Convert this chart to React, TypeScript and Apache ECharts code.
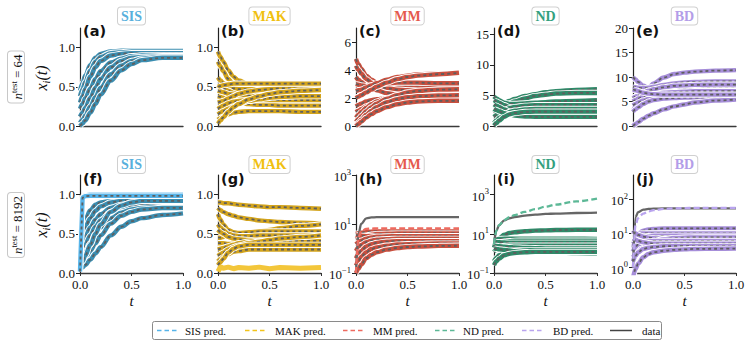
import React, { useEffect, useRef } from "react";
import * as echarts from "echarts";

const SERIF = "Liberation Serif, DejaVu Serif, serif";
const SANS = "DejaVu Sans, sans-serif";

// time grid (t)
const T = [0, 0.025, 0.05, 0.1, 0.15, 0.2, 0.3, 0.4, 0.5, 0.6, 0.8, 1.0];

// (a) SIS, n_test = 64
const sis64 = [
  [0.45, 0.55, 0.64, 0.78, 0.87, 0.92, 0.95, 0.96, 0.96, 0.96, 0.96, 0.96],
  [0.38, 0.47, 0.56, 0.71, 0.82, 0.88, 0.93, 0.94, 0.95, 0.95, 0.95, 0.95],
  [0.3, 0.38, 0.47, 0.63, 0.75, 0.83, 0.9, 0.92, 0.93, 0.93, 0.93, 0.93],
  [0.22, 0.28, 0.35, 0.48, 0.6, 0.7, 0.81, 0.86, 0.89, 0.9, 0.9, 0.9],
  [0.12, 0.17, 0.23, 0.36, 0.49, 0.6, 0.75, 0.83, 0.87, 0.88, 0.89, 0.89],
  [0.04, 0.08, 0.13, 0.25, 0.37, 0.49, 0.66, 0.77, 0.83, 0.86, 0.88, 0.88],
  [0.0, 0.03, 0.07, 0.17, 0.28, 0.4, 0.58, 0.71, 0.79, 0.84, 0.87, 0.87],
];

// (b) MAK, n_test = 64
const mak64 = [
  [0.95, 0.88, 0.82, 0.71, 0.63, 0.58, 0.53, 0.52, 0.52, 0.52, 0.52, 0.52],
  [0.82, 0.76, 0.7, 0.6, 0.53, 0.48, 0.43, 0.42, 0.41, 0.41, 0.41, 0.41],
  [0.62, 0.58, 0.55, 0.5, 0.48, 0.47, 0.47, 0.47, 0.47, 0.47, 0.47, 0.47],
  [0.52, 0.5, 0.48, 0.45, 0.42, 0.4, 0.38, 0.37, 0.36, 0.36, 0.35, 0.35],
  [0.45, 0.44, 0.43, 0.41, 0.4, 0.39, 0.39, 0.39, 0.39, 0.39, 0.39, 0.39],
  [0.38, 0.37, 0.36, 0.33, 0.31, 0.3, 0.28, 0.27, 0.27, 0.26, 0.26, 0.26],
  [0.3, 0.31, 0.32, 0.35, 0.38, 0.41, 0.44, 0.46, 0.47, 0.48, 0.48, 0.48],
  [0.22, 0.24, 0.26, 0.29, 0.31, 0.32, 0.33, 0.33, 0.33, 0.33, 0.33, 0.33],
  [0.15, 0.17, 0.19, 0.22, 0.25, 0.28, 0.32, 0.34, 0.36, 0.37, 0.38, 0.38],
  [0.08, 0.1, 0.12, 0.15, 0.17, 0.18, 0.19, 0.19, 0.19, 0.19, 0.18, 0.18],
  [0.03, 0.07, 0.11, 0.18, 0.24, 0.28, 0.34, 0.38, 0.41, 0.43, 0.45, 0.46],
  [0.5, 0.51, 0.52, 0.53, 0.54, 0.54, 0.54, 0.54, 0.54, 0.54, 0.54, 0.54],
];

// (c) MM, n_test = 64
const mm64 = [
  [4.8, 4.4, 4.1, 3.6, 3.3, 3.1, 2.95, 2.9, 2.9, 2.9, 2.9, 2.9],
  [4.3, 4.0, 3.75, 3.35, 3.1, 2.9, 2.7, 2.6, 2.55, 2.5, 2.5, 2.5],
  [3.5, 3.3, 3.15, 2.9, 2.7, 2.55, 2.35, 2.25, 2.2, 2.2, 2.2, 2.2],
  [3.0, 2.95, 2.9, 2.85, 2.9, 2.95, 3.05, 3.1, 3.1, 3.1, 3.05, 3.05],
  [2.5, 2.55, 2.6, 2.75, 2.9, 3.05, 3.3, 3.5, 3.6, 3.7, 3.75, 3.75],
  [2.0, 2.1, 2.2, 2.4, 2.6, 2.8, 3.1, 3.35, 3.5, 3.6, 3.7, 3.8],
  [1.4, 1.5, 1.6, 1.75, 1.85, 1.92, 2.0, 2.02, 2.03, 2.03, 2.03, 2.03],
  [1.0, 1.1, 1.2, 1.4, 1.55, 1.65, 1.8, 1.88, 1.9, 1.92, 1.92, 1.92],
  [0.6, 0.8, 1.0, 1.3, 1.55, 1.75, 2.0, 2.15, 2.22, 2.26, 2.3, 2.3],
  [0.3, 0.5, 0.7, 1.05, 1.35, 1.6, 1.95, 2.2, 2.4, 2.5, 2.6, 2.62],
  [0.05, 0.25, 0.45, 0.8, 1.1, 1.35, 1.7, 1.92, 2.05, 2.12, 2.18, 2.2],
  [0.0, 0.15, 0.3, 0.6, 0.85, 1.05, 1.35, 1.55, 1.68, 1.75, 1.8, 1.8],
];

// (d) ND, n_test = 64
const nd64 = [
  [3.0, 3.2, 3.4, 3.8, 4.1, 4.4, 4.9, 5.2, 5.5, 5.7, 5.9, 6.0],
  [2.2, 2.5, 2.8, 3.3, 3.7, 4.0, 4.5, 4.9, 5.1, 5.3, 5.4, 5.4],
  [4.8, 4.5, 4.2, 3.8, 3.6, 3.6, 3.7, 3.8, 3.9, 4.0, 4.1, 4.2],
  [4.2, 4.0, 3.8, 3.4, 3.1, 2.9, 2.7, 2.6, 2.6, 2.6, 2.6, 2.6],
  [1.5, 1.8, 2.1, 2.6, 2.9, 3.1, 3.3, 3.4, 3.4, 3.4, 3.4, 3.4],
  [3.5, 3.3, 3.1, 2.7, 2.4, 2.2, 2.0, 1.9, 1.9, 1.9, 1.9, 1.9],
  [0.5, 0.9, 1.3, 1.9, 2.3, 2.5, 2.7, 2.8, 2.8, 2.8, 2.8, 2.8],
  [2.8, 2.6, 2.4, 2.1, 1.9, 1.7, 1.55, 1.5, 1.5, 1.5, 1.5, 1.5],
  [0.1, 0.5, 0.9, 1.5, 1.9, 2.1, 2.3, 2.35, 2.35, 2.35, 2.35, 2.35],
];

// (e) BD, n_test = 64
const bd64 = [
  [3.0, 4.0, 5.0, 6.6, 7.8, 8.7, 9.9, 10.6, 10.9, 11.1, 11.3, 11.4],
  [10.0, 9.5, 9.0, 8.2, 7.8, 7.6, 7.6, 7.7, 7.8, 7.8, 7.8, 7.8],
  [8.0, 7.9, 7.8, 7.7, 7.8, 8.0, 8.4, 8.7, 8.9, 9.0, 9.1, 9.1],
  [5.7, 6.0, 6.3, 6.8, 7.2, 7.5, 7.9, 8.2, 8.3, 8.4, 8.45, 8.45],
  [5.0, 5.3, 5.6, 6.0, 6.3, 6.5, 6.8, 6.9, 7.0, 7.1, 7.1, 7.1],
  [4.2, 4.5, 4.8, 5.2, 5.5, 5.7, 5.9, 6.0, 6.0, 6.0, 6.0, 6.0],
  [2.9, 3.4, 3.8, 4.5, 5.0, 5.3, 5.6, 5.7, 5.8, 5.8, 5.8, 5.8],
  [0.0, 0.4, 0.8, 1.5, 2.1, 2.6, 3.4, 4.0, 4.4, 4.8, 5.2, 5.4],
  [7.5, 7.3, 7.1, 6.8, 6.6, 6.5, 6.4, 6.4, 6.4, 6.4, 6.4, 6.4],
];

// (f) SIS, n_test = 8192
const sis8192 = [
  [0.5, 0.6, 0.68, 0.8, 0.87, 0.9, 0.92, 0.93, 0.93, 0.93, 0.93, 0.93],
  [0.42, 0.5, 0.58, 0.7, 0.79, 0.85, 0.9, 0.92, 0.93, 0.93, 0.93, 0.93],
  [0.33, 0.39, 0.46, 0.58, 0.68, 0.75, 0.83, 0.87, 0.89, 0.9, 0.9, 0.9],
  [0.25, 0.3, 0.36, 0.48, 0.59, 0.67, 0.78, 0.84, 0.86, 0.87, 0.87, 0.87],
  [0.15, 0.2, 0.26, 0.38, 0.49, 0.58, 0.7, 0.77, 0.81, 0.83, 0.84, 0.84],
  [0.08, 0.12, 0.17, 0.28, 0.38, 0.48, 0.63, 0.73, 0.78, 0.81, 0.83, 0.83],
  [0.05, 0.07, 0.1, 0.17, 0.25, 0.33, 0.48, 0.59, 0.66, 0.7, 0.74, 0.76],
  [0.1, 0.15, 0.22, 0.36, 0.5, 0.62, 0.78, 0.86, 0.9, 0.92, 0.92, 0.92],
];
const sis8192Saturated = [
  [0.02, 0.97, 0.99, 1.0, 1.0, 1.0, 1.0, 1.0, 1.0, 1.0, 1.0, 1.0],
  [0.02, 0.96, 0.98, 0.985, 0.985, 0.985, 0.985, 0.985, 0.985, 0.985, 0.985, 0.985],
];

// (g) MAK, n_test = 8192
const mak8192 = [
  [0.9, 0.9, 0.89, 0.89, 0.88, 0.87, 0.86, 0.85, 0.84, 0.84, 0.83, 0.82],
  [0.83, 0.8, 0.78, 0.75, 0.73, 0.71, 0.69, 0.67, 0.66, 0.65, 0.64, 0.63],
  [0.45, 0.45, 0.46, 0.47, 0.48, 0.49, 0.51, 0.53, 0.55, 0.57, 0.6, 0.62],
  [0.75, 0.68, 0.62, 0.55, 0.52, 0.51, 0.52, 0.53, 0.53, 0.53, 0.53, 0.53],
  [0.62, 0.58, 0.55, 0.5, 0.48, 0.47, 0.47, 0.48, 0.48, 0.48, 0.48, 0.48],
  [0.55, 0.52, 0.5, 0.46, 0.44, 0.43, 0.42, 0.41, 0.41, 0.41, 0.41, 0.41],
  [0.38, 0.38, 0.38, 0.37, 0.37, 0.36, 0.36, 0.36, 0.36, 0.36, 0.36, 0.36],
  [0.3, 0.31, 0.32, 0.34, 0.36, 0.38, 0.4, 0.41, 0.41, 0.41, 0.41, 0.41],
  [0.22, 0.24, 0.26, 0.3, 0.33, 0.35, 0.38, 0.4, 0.42, 0.44, 0.46, 0.48],
  [0.15, 0.18, 0.2, 0.24, 0.27, 0.28, 0.3, 0.3, 0.3, 0.3, 0.3, 0.3],
  [0.1, 0.14, 0.18, 0.26, 0.31, 0.34, 0.36, 0.36, 0.36, 0.36, 0.36, 0.36],
];
const mak8192NoisyPred = [
  [0.02, 0.08, 0.06, 0.075, 0.055, 0.07, 0.06, 0.075, 0.055, 0.07, 0.06, 0.07],
];

// (h) MM, n_test = 8192 (log scale)
const mm8192 = [
  [4.0, 4.2, 4.4, 4.7, 4.9, 5.0, 5.0, 5.0, 5.0, 5.0, 5.0, 5.0],
  [2.5, 2.8, 3.0, 3.4, 3.7, 3.9, 4.0, 4.1, 4.1, 4.1, 4.1, 4.1],
  [3.5, 3.4, 3.3, 3.2, 3.1, 3.0, 2.9, 2.8, 2.8, 2.8, 2.8, 2.8],
  [1.5, 1.8, 2.1, 2.5, 2.8, 3.0, 3.1, 3.2, 3.2, 3.2, 3.2, 3.2],
  [0.8, 1.1, 1.4, 1.8, 2.1, 2.3, 2.4, 2.5, 2.5, 2.5, 2.5, 2.5],
  [0.4, 0.6, 0.8, 1.2, 1.5, 1.7, 1.9, 2.0, 2.0, 2.0, 2.0, 2.0],
  [0.2, 0.3, 0.45, 0.7, 0.95, 1.1, 1.3, 1.45, 1.5, 1.55, 1.6, 1.6],
  [0.1, 0.15, 0.22, 0.4, 0.55, 0.7, 0.9, 1.05, 1.15, 1.2, 1.28, 1.3],
];
const mm8192Data = [[0.1, 4, 10, 17, 18.5, 19, 19, 19, 19, 19, 19, 19]];
const mm8192Pred = [[0.1, 3, 5, 6.3, 6.5, 6.6, 6.6, 6.6, 6.6, 6.6, 6.6, 6.6]];

// (i) ND, n_test = 8192 (log scale)
const nd8192 = [
  [2, 4, 6, 9, 11, 12, 13.5, 14.5, 15, 15.5, 16, 16],
  [5, 5.2, 5.4, 5.6, 5.6, 5.6, 5.6, 5.6, 5.6, 5.6, 5.6, 5.5],
  [3, 3.3, 3.6, 4.0, 4.2, 4.4, 4.5, 4.5, 4.5, 4.5, 4.5, 4.5],
  [4, 3.8, 3.7, 3.6, 3.5, 3.5, 3.5, 3.5, 3.5, 3.5, 3.5, 3.5],
  [1.2, 1.6, 2.0, 2.4, 2.5, 2.5, 2.5, 2.5, 2.5, 2.5, 2.5, 2.5],
  [2.5, 2.4, 2.3, 2.2, 2.1, 2.0, 1.9, 1.85, 1.8, 1.8, 1.8, 1.8],
  [0.4, 0.6, 0.8, 1.1, 1.3, 1.4, 1.45, 1.45, 1.45, 1.45, 1.45, 1.45],
  [1.8, 1.7, 1.6, 1.5, 1.4, 1.3, 1.2, 1.15, 1.1, 1.1, 1.05, 1.0],
  [0.25, 0.4, 0.55, 0.8, 0.95, 1.05, 1.15, 1.2, 1.2, 1.2, 1.2, 1.2],
];
const nd8192Data = [[3, 15, 28, 48, 62, 72, 85, 95, 103, 108, 115, 120]];
const nd8192Pred = [[3, 15, 28, 50, 70, 90, 130, 180, 240, 310, 450, 630]];

// (j) BD, n_test = 8192 (log scale)
const bd8192 = [
  [3, 8, 10, 12, 13, 13.5, 14, 14, 14, 14, 14, 14],
  [9, 9.5, 9.8, 10, 10, 10, 10, 10, 10, 10, 10, 10],
  [5, 6, 7, 8, 8.3, 8.5, 8.5, 8.5, 8.5, 8.5, 8.5, 8.5],
  [12, 10, 9, 8, 7.5, 7.2, 7, 7, 7, 7, 7, 7],
  [2, 2.5, 3, 4, 5, 5.8, 6.8, 7.3, 7.5, 7.6, 7.6, 7.6],
  [3, 4, 4.8, 5.5, 5.8, 6, 6, 6, 6, 6, 6, 6],
  [7, 6.5, 6, 5.5, 5.2, 5, 5, 5, 5, 5, 5, 5],
  [1.5, 2.2, 2.8, 3.5, 3.8, 4, 4.2, 4.2, 4.2, 4.2, 4.2, 4.2],
  [0.5, 0.9, 1.3, 2.0, 2.5, 2.8, 3.1, 3.3, 3.4, 3.5, 3.55, 3.6],
];
const bd8192Data = [[1, 30, 42, 50, 52, 53, 54, 54, 54, 54, 54, 54]];
const bd8192Pred = [[1, 18, 28, 38, 44, 48, 52, 54, 55, 56, 56, 56]];

// tick labels
const unitTicks = [0, 0.5, 1.0];
const mm64Ticks = [0, 2, 4, 6];
const nd64Ticks = [0, 5, 10, 15];
const bd64Ticks = [0, 5, 10, 15, 20];
const logTicksWide = [0.1, 10, 1000];
const logTicksBD = [1, 10, 100];

const models = ["SIS", "MAK", "MM", "ND", "BD"];
const rowLabels = ["64", "8192"];
const legendLabels = ["SIS pred.", "MAK pred.", "MM pred.", "ND pred.", "BD pred.", "data"];

const COL: Record<string, { band: string; pred: string; title: string }> = {
  SIS: { band: "#3b8db0", pred: "#56b4e9", title: "#58b0dc" },
  MAK: { band: "#d3a41c", pred: "#f2c31a", title: "#f0c010" },
  MM: { band: "#c9503f", pred: "#ee6a5f", title: "#e55a4e" },
  ND: { band: "#2f8a69", pred: "#5cb896", title: "#33a07e" },
  BD: { band: "#a68ed9", pred: "#b9a4ee", title: "#b39de8" },
};
const DATA_GRAY = "#5e5e5e";

const LEFTS = [80, 218, 356, 494, 633];
const TOPS = [28, 175];
const PW = 103;
const PH = 98;

const fmt1 = (v: number) => v.toFixed(1);
const fmtInt = (v: number) => String(v);

type Panel = {
  row: number;
  col: number;
  letter: string;
  traj: number[][];
  flat?: number[][];
  noisy?: number[][];
  dataOnly?: number[][];
  predOnly?: number[][];
  log?: boolean;
  min: number;
  max: number;
  ticks: number[];
  fmt?: (v: number) => string;
};

const panels: Panel[] = [
  { row: 0, col: 0, letter: "(a)", traj: sis64, min: 0, max: 1.25, ticks: unitTicks, fmt: fmt1 },
  { row: 0, col: 1, letter: "(b)", traj: mak64, min: 0, max: 1.25, ticks: unitTicks, fmt: fmt1 },
  { row: 0, col: 2, letter: "(c)", traj: mm64, min: 0, max: 7, ticks: mm64Ticks, fmt: fmtInt },
  { row: 0, col: 3, letter: "(d)", traj: nd64, min: 0, max: 16, ticks: nd64Ticks, fmt: fmtInt },
  { row: 0, col: 4, letter: "(e)", traj: bd64, min: 0, max: 20, ticks: bd64Ticks, fmt: fmtInt },
  { row: 1, col: 0, letter: "(f)", traj: sis8192, flat: sis8192Saturated, min: 0, max: 1.25, ticks: unitTicks, fmt: fmt1 },
  { row: 1, col: 1, letter: "(g)", traj: mak8192, noisy: mak8192NoisyPred, min: 0, max: 1.25, ticks: unitTicks, fmt: fmt1 },
  { row: 1, col: 2, letter: "(h)", traj: mm8192, dataOnly: mm8192Data, predOnly: mm8192Pred, log: true, min: 0.1, max: 1000, ticks: logTicksWide },
  { row: 1, col: 3, letter: "(i)", traj: nd8192, dataOnly: nd8192Data, predOnly: nd8192Pred, log: true, min: 0.1, max: 10000, ticks: logTicksWide },
  { row: 1, col: 4, letter: "(j)", traj: bd8192, dataOnly: bd8192Data, predOnly: bd8192Pred, log: true, min: 0.69, max: 515, ticks: logTicksBD },
];

function buildOption() {
  const grid: any[] = [];
  const xAxis: any[] = [];
  const yAxis: any[] = [];
  const series: any[] = [];
  const graphic: any[] = [];

  panels.forEach((p, k) => {
    const m = models[p.col];
    const c = COL[m];
    const left = LEFTS[p.col];
    const top = TOPS[p.row];
    grid.push({ left, top, width: PW, height: PH, containLabel: false });
    const bottomRow = p.row === 1;
    xAxis.push({
      type: "value",
      gridIndex: k,
      min: 0,
      max: 1,
      interval: 0.5,
      splitLine: { show: false },
      axisLine: { show: true, onZero: false, lineStyle: { color: "#3a3a3a", width: 1.4 } },
      axisTick: { show: bottomRow, length: 3, lineStyle: { color: "#333" } },
      axisLabel: {
        show: bottomRow,
        margin: 5,
        color: "#111",
        fontFamily: SERIF,
        fontSize: 13,
        formatter: (v: number) => v.toFixed(1),
      },
    });
    const yBase: any = {
      gridIndex: k,
      min: p.min,
      max: p.max,
      splitLine: { show: false },
      axisLine: { show: true, onZero: false, lineStyle: { color: "#222", width: 1.2 } },
      axisTick: { show: true, length: 4, customValues: p.ticks, lineStyle: { color: "#222" } },
    };
    if (p.log) {
      yAxis.push({
        ...yBase,
        type: "log",
        logBase: 10,
        axisLabel: {
          customValues: p.ticks,
          margin: 5,
          color: "#111",
          formatter: (v: number) => {
            const e = Math.round(Math.log10(v));
            return `{b|10}{s|${e < 0 ? "\u2212" + -e : e}}`;
          },
          rich: {
            b: { fontFamily: SERIF, fontSize: 13, color: "#111", lineHeight: 16, verticalAlign: "bottom" },
            s: { fontFamily: SERIF, fontSize: 8.5, color: "#111", lineHeight: 10, verticalAlign: "top" },
          },
        },
      });
    } else {
      yAxis.push({
        ...yBase,
        type: "value",
        axisLabel: {
          customValues: p.ticks,
          margin: 5,
          color: "#111",
          fontFamily: SERIF,
          fontSize: 13,
          formatter: p.fmt,
        },
      });
    }

    const base = (vals: number[], smooth: number | boolean) => ({
      type: "line",
      xAxisIndex: k,
      yAxisIndex: k,
      data: vals.map((v, i) => [T[i], v]),
      symbol: "none",
      smooth,
      smoothMonotone: "x",
      silent: true,
      clip: true,
      emphasis: { disabled: true },
    });
    const addTraj = (vals: number[], bandColor: string, smooth: number | boolean) => {
      series.push({ ...base(vals, smooth), lineStyle: { color: "#ffffff", width: 6.2 } });
      series.push({ ...base(vals, smooth), lineStyle: { color: bandColor, width: 4.4 } });
      series.push({ ...base(vals, smooth), lineStyle: { color: DATA_GRAY, width: 1.8, type: [3, 3] } });
    };
    p.traj.forEach((v) => addTraj(v, c.band, 0.35));
    (p.flat || []).forEach((v) => addTraj(v, c.pred, false));
    (p.noisy || []).forEach((v) => {
      series.push({ ...base(v, false), lineStyle: { color: "#f3c63a", width: 5 } });
    });
    (p.dataOnly || []).forEach((v) => {
      series.push({ ...base(v, 0.35), lineStyle: { color: "#666", width: 2.3 } });
    });
    (p.predOnly || []).forEach((v) => {
      series.push({ ...base(v, 0.35), lineStyle: { color: c.pred, width: 2.3, type: [6, 3] } });
    });

    graphic.push({
      type: "text",
      x: left + 3,
      y: top + (p.row === 0 ? 3 : 3.5),
      silent: true,
      style: {
        text: p.letter,
        fontFamily: SANS,
        fontWeight: "bold",
        fontSize: 14.5,
        fill: "#111",
        align: "left",
        verticalAlign: "middle",
        textAlign: "left",
        textVerticalAlign: "middle",
      },
    });
    graphic.push({
      type: "text",
      x: left + PW / 2,
      y: p.row === 0 ? 16 : 164.5,
      silent: true,
      style: {
        text: m,
        fontFamily: SERIF,
        fontWeight: "bold",
        fontSize: 14,
        fill: c.title,
        align: "center",
        verticalAlign: "middle",
        textAlign: "center",
        textVerticalAlign: "middle",
        backgroundColor: "#fff",
        borderColor: "#d0d0d0",
        borderWidth: 1,
        borderRadius: 3,
        padding: [2, 3, 1, 3],
      },
    });
    if (p.row === 1) {
      graphic.push({
        type: "text",
        x: left + PW / 2,
        y: 301,
        silent: true,
        style: {
          text: "t",
          fontFamily: SERIF,
          fontStyle: "italic",
          fontSize: 15,
          fill: "#111",
          align: "center",
          verticalAlign: "middle",
          textAlign: "center",
          textVerticalAlign: "middle",
        },
      });
    }
  });

  rowLabels.forEach((n, r) => {
    const cy = TOPS[r] + PH / 2;
    graphic.push({
      type: "text",
      x: 16,
      y: cy + (r === 0 ? 0 : 1),
      rotation: Math.PI / 2,
      silent: true,
      style: {
        text: `{a|n}{b|test}{c| = ${n}}`,
        align: "center",
        verticalAlign: "middle",
        textAlign: "center",
        textVerticalAlign: "middle",
        backgroundColor: "#fff",
        borderColor: "#c8c8c8",
        borderWidth: 1,
        borderRadius: 3,
        padding: [1, 3, 0, 3],
        rich: {
          a: { fontFamily: SERIF, fontStyle: "italic", fontSize: 13, lineHeight: 15, verticalAlign: "bottom", fill: "#111" },
          b: { fontFamily: SERIF, fontSize: 8.5, lineHeight: 10, verticalAlign: "top", fill: "#111" },
          c: { fontFamily: SERIF, fontSize: 13, lineHeight: 15, verticalAlign: "bottom", fill: "#111" },
        },
      },
    });
    graphic.push({
      type: "text",
      x: 42,
      y: cy + 1,
      rotation: Math.PI / 2,
      silent: true,
      style: {
        text: "{a|x}{b|i}{a|(t)}",
        align: "center",
        verticalAlign: "middle",
        textAlign: "center",
        textVerticalAlign: "middle",
        rich: {
          a: { fontFamily: SERIF, fontStyle: "italic", fontSize: 16, lineHeight: 18, verticalAlign: "top", fill: "#111" },
          b: { fontFamily: SERIF, fontStyle: "italic", fontSize: 10, lineHeight: 10, verticalAlign: "bottom", fill: "#111" },
        },
      },
    });
  });

  graphic.push({
    type: "rect",
    silent: true,
    shape: { x: 152.5, y: 321.5, width: 509, height: 18, r: 2 },
    style: { fill: "#fff", stroke: "#8a8a8a", lineWidth: 1 },
  });
  const legDash = [157, 245, 343, 435, 522, 610];
  const legText = [185, 275, 373, 463, 553, 642];
  legendLabels.forEach((lab, i) => {
    const isData = i === 5;
    const color = isData ? "#444" : COL[models[i]].pred;
    graphic.push({
      type: "line",
      silent: true,
      shape: { x1: legDash[i], y1: 330.5, x2: legDash[i] + 22, y2: 330.5 },
      style: { stroke: color, lineWidth: 1.5, lineDash: isData ? null : [4.5, 3] },
    });
    graphic.push({
      type: "text",
      silent: true,
      x: legText[i],
      y: 331,
      style: {
        text: lab,
        fontFamily: SERIF,
        fontSize: 11,
        fill: "#111",
        align: "left",
        verticalAlign: "middle",
        textAlign: "left",
        textVerticalAlign: "middle",
      },
    });
  });

  return { animation: false, backgroundColor: "#ffffff", grid, xAxis, yAxis, series, graphic };
}

export default function App() {
  const ref = useRef<HTMLDivElement>(null);
  useEffect(() => {
    if (!ref.current) return;
    const chart = echarts.init(ref.current, undefined, { renderer: "svg" });
    chart.setOption(buildOption() as any);
    return () => chart.dispose();
  }, []);
  return (
    <div
      ref={ref}
      style={{ position: "fixed", left: 0, top: 0, width: 753, height: 351, background: "#fff" }}
    />
  );
}
